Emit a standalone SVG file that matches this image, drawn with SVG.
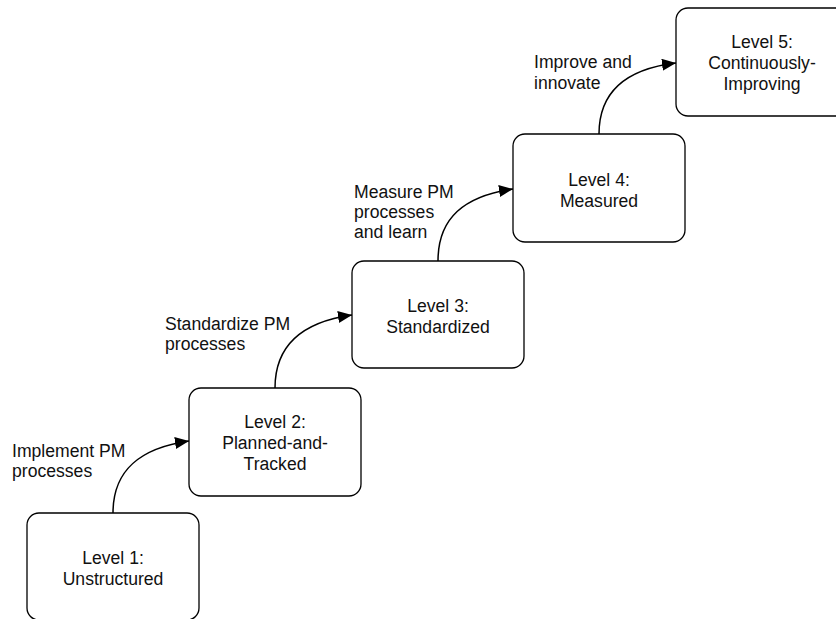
<svg xmlns="http://www.w3.org/2000/svg" width="836" height="619" viewBox="0 0 836 619">
  <defs>
    <marker id="arrow" markerUnits="userSpaceOnUse" markerWidth="15" markerHeight="13" refX="14" refY="6" orient="auto">
      <path d="M0,0 L14,6 L0,12 Z" fill="#000"/>
    </marker>
    <style>
      .box { fill: #fff; stroke: #000; stroke-width: 1.3; }
      .lbl { font-family: "Liberation Sans", Arial, sans-serif; font-size: 17.6px; fill: #111; }
      .c { text-anchor: middle; }
      .edge { fill: none; stroke: #000; stroke-width: 1.5; marker-end: url(#arrow); }
    </style>
  </defs>
  <rect width="836" height="619" fill="#fff"/>

  <!-- transitions between maturity levels -->
  <g id="connectors">
    <path class="edge" d="M113,513 C113,470 140,448 189,441"/>
    <path class="edge" d="M275,388 C275,345 302,322 352,315"/>
    <path class="edge" d="M438,261 C438,218 464,196 513,189"/>
    <path class="edge" d="M599,134 C599,91 626,69 676,63"/>
  </g>

  <!-- transition labels -->
  <g id="labels" class="lbl">
    <text x="12" y="457">Implement PM</text>
    <text x="12" y="477">processes</text>
    <text x="165" y="330">Standardize PM</text>
    <text x="165" y="350">processes</text>
    <text x="354" y="198">Measure PM</text>
    <text x="354" y="218">processes</text>
    <text x="354" y="238">and learn</text>
    <text x="534" y="68">Improve and</text>
    <text x="534" y="89">innovate</text>
  </g>

  <g id="level1">
    <rect class="box" x="27" y="513" width="172" height="107" rx="12"/>
    <text class="lbl c" x="113" y="564">Level 1:</text>
    <text class="lbl c" x="113" y="585">Unstructured</text>
  </g>

  <g id="level2">
    <rect class="box" x="189" y="388" width="172" height="108" rx="12"/>
    <text class="lbl c" x="275" y="428">Level 2:</text>
    <text class="lbl c" x="275" y="449">Planned-and-</text>
    <text class="lbl c" x="275" y="470">Tracked</text>
  </g>

  <g id="level3">
    <rect class="box" x="352" y="261" width="172" height="107" rx="12"/>
    <text class="lbl c" x="438" y="312">Level 3:</text>
    <text class="lbl c" x="438" y="333">Standardized</text>
  </g>

  <g id="level4">
    <rect class="box" x="513" y="134" width="172" height="108" rx="12"/>
    <text class="lbl c" x="599" y="186">Level 4:</text>
    <text class="lbl c" x="599" y="207">Measured</text>
  </g>

  <g id="level5">
    <rect class="box" x="676" y="8" width="172" height="108" rx="12"/>
    <text class="lbl c" x="762" y="48">Level 5:</text>
    <text class="lbl c" x="762" y="69">Continuously-</text>
    <text class="lbl c" x="762" y="90">Improving</text>
  </g>
</svg>
